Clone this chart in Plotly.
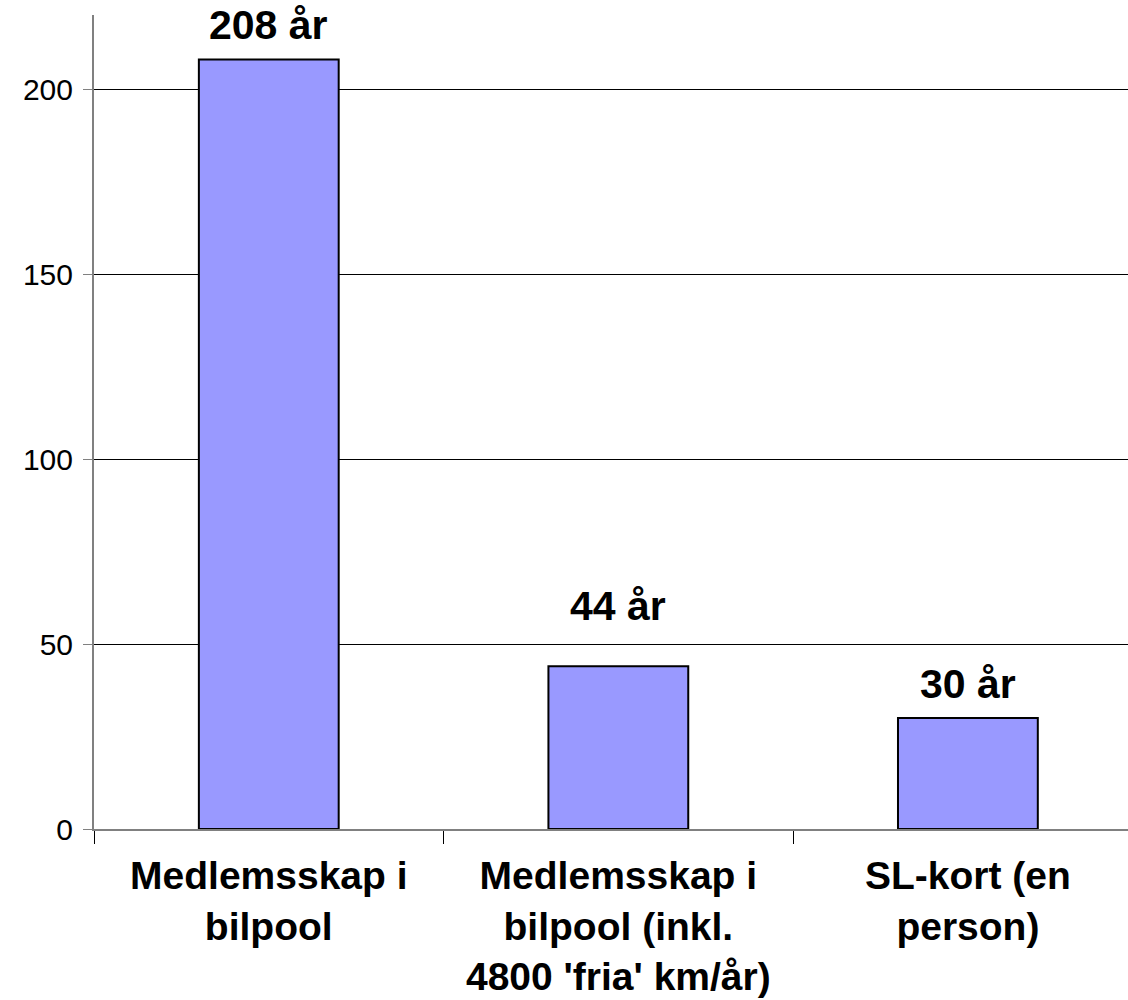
import plotly.graph_objects as go

categories = ["Medlemsskap i<br>bilpool", "Medlemsskap i<br>bilpool (inkl.<br>4800 'fria' km/år)", "SL-kort (en<br>person)"]
values = [208, 44, 30]
value_labels = ["208 år", "44 år", "30 år"]
label_shift = [9, 35, 9]
y_ticks = [0, 50, 100, 150, 200]

fig = go.Figure()
fig.add_trace(go.Bar(
    x=list(range(len(categories))), y=values, width=0.4,
    marker=dict(color="#9999FF", line=dict(color="#000000", width=2)),
    hoverinfo="skip",
))

for i, (v, t) in enumerate(zip(values, value_labels)):
    fig.add_annotation(x=i, y=v, text="<b>" + t + "</b>", showarrow=False, yanchor="bottom",
                       yshift=label_shift[i],
                       font=dict(family="Liberation Sans, Arial", size=41, color="#000000"))

fig.update_layout(
    width=1128, height=1000,
    margin=dict(l=94, r=0, t=15, b=171),
    plot_bgcolor="#FFFFFF", paper_bgcolor="#FFFFFF",
    showlegend=False,
    font=dict(family="Liberation Sans, Arial", color="#000000"),
)
fig.update_xaxes(
    type="linear", range=[-0.5, 2.458], automargin=False,
    tickmode="array", tickvals=[0, 1, 2],
    ticktext=["<b>" + c.replace("<br>", "</b><br><b>") + "</b>" for c in categories],
    tickfont=dict(size=39, family="Liberation Sans, Arial", color="#000000"),
    ticks="", showgrid=False, zeroline=False, ticklabelstandoff=11,
    showline=True, linecolor="#808080", linewidth=2,
)
fig.update_xaxes(minor=dict(tickmode="array", tickvals=[-0.5, 0.5, 1.5], ticks="outside",
                            ticklen=13, tickcolor="#000000", tickwidth=1, showgrid=False))
fig.update_yaxes(
    range=[0, 220], tickmode="array", tickvals=y_ticks, automargin=False,
    tickfont=dict(size=30, family="Liberation Sans, Arial", color="#000000"),
    ticks="outside", ticklen=9, tickcolor="#808080", tickwidth=1, ticklabelstandoff=4,
    showgrid=True, gridcolor="#000000", gridwidth=1,
    zeroline=False, showline=True, linecolor="#808080", linewidth=2,
)

fig.write_html("out.html", config={"displayModeBar": False},
               post_script="document.body.style.margin='0';document.body.style.overflow='hidden';")
